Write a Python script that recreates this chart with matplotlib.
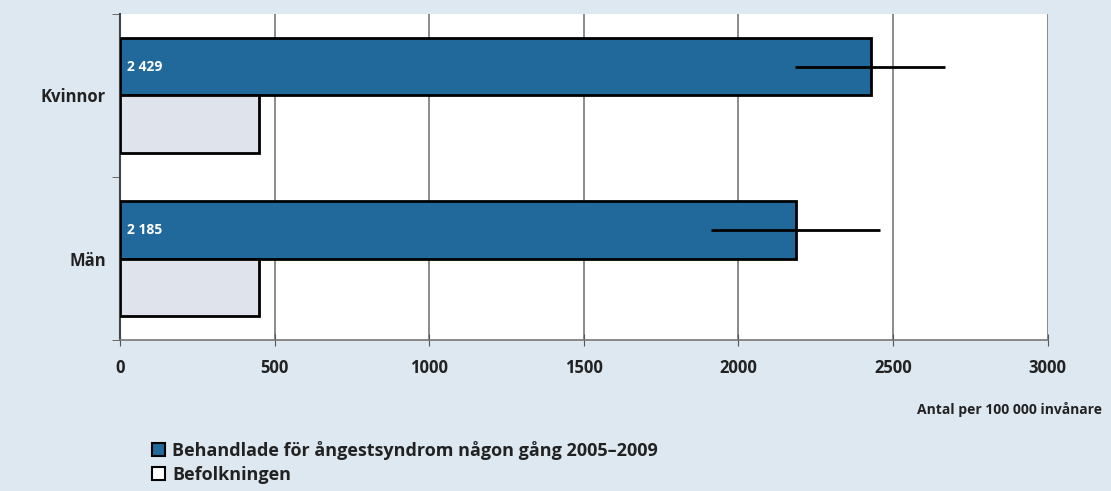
import numpy as np
import matplotlib.pyplot as plt
from matplotlib.patches import Patch

# Data
categories = ["Kvinnor", "Män"]
behandlade = [2429, 2185]
befolkningen = [450, 450]
ci_low = [2182, 1911]
ci_high = [2667, 2457]
value_labels = ["2 429", "2 185"]
xticks = [0, 500, 1000, 1500, 2000, 2500, 3000]

plt.rcParams['font.family'] = ['Open Sans', 'DejaVu Sans']
plt.rcParams['font.weight'] = 'bold'

bg = "#dde8f1"
blue = "#21699b"
grey = "#dfe4ec"
txt = "#222222"

fig = plt.figure(figsize=(11.11, 4.91), dpi=100, facecolor=bg)
ax = fig.add_axes([0.108, 0.3075, 0.835, 0.664])
ax.set_facecolor("white")

y = np.arange(len(categories))
h = 0.35
xerr = [np.array(behandlade) - np.array(ci_low), np.array(ci_high) - np.array(behandlade)]

ax.barh(y - h / 2, behandlade, height=h, color=blue, edgecolor="black", linewidth=2, zorder=3)
ax.barh(y + h / 2, befolkningen, height=h, color=grey, edgecolor="black", linewidth=2, zorder=3)
ax.errorbar(behandlade, y - h / 2, xerr=xerr, fmt="none", ecolor="black", elinewidth=2, capsize=0, zorder=4)

for i, lab in enumerate(value_labels):
    ax.text(22, y[i] - h / 2, lab, color="white", fontsize=10, fontweight="bold", va="center", ha="left", zorder=5)

ax.set_xlim(0, 3000)
ax.set_ylim(1.5, -0.5)
ax.set_xticks(xticks)
ax.set_xticklabels([str(t) for t in xticks], fontsize=12, color=txt)
ax.set_yticks(y)
ax.set_yticklabels(categories, fontsize=12, color=txt)
ax.set_yticks([-0.5, 0.5, 1.5], minor=True)
ax.tick_params(axis="y", which="major", length=0, pad=10)
ax.tick_params(axis="y", which="minor", length=6, color="#555555", direction="out")
ax.tick_params(axis="x", length=8, color="#555555", direction="inout", pad=10)
ax.grid(axis="x", color="#777777", linewidth=1.2, zorder=0)

for s in ["top", "right"]:
    ax.spines[s].set_visible(False)
ax.spines["left"].set_color("#444444")
ax.spines["left"].set_linewidth(1.5)
ax.spines["bottom"].set_color("#777777")
ax.spines["bottom"].set_linewidth(1.2)

fig.text(0.992, 0.165, "Antal per 100 000 invånare", fontsize=10, fontweight="bold",
         ha="right", va="center", color=txt)

handles = [Patch(facecolor=blue, edgecolor="black", linewidth=1.5),
           Patch(facecolor="white", edgecolor="black", linewidth=1.5)]
labels = ["Behandlade för ångestsyndrom någon gång 2005–2009", "Befolkningen"]
leg = fig.legend(handles, labels, loc="upper left", bbox_to_anchor=(0.129, 0.12),
                 frameon=False, fontsize=13, handlelength=0.7, handleheight=0.7,
                 handletextpad=0.4, labelspacing=0.3, borderpad=0)
for t in leg.get_texts():
    t.set_color(txt)

fig.savefig("out.png", dpi=100, facecolor=bg)
